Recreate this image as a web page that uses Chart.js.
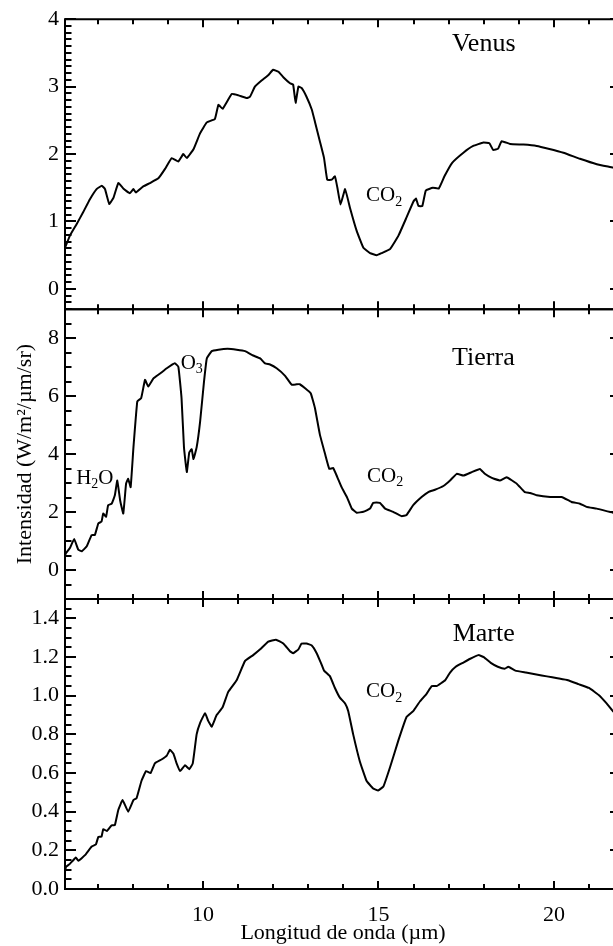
<!DOCTYPE html>
<html>
<head>
<meta charset="utf-8">
<script src="https://cdn.jsdelivr.net/npm/chart.js@4/dist/chart.umd.min.js"></script>
<style>
  html, body { margin: 0; padding: 0; background: #fff; overflow: hidden; }
  #wrap { width: 613px; height: 946px; overflow: hidden; position: relative; }
  canvas { display: block; }
</style>
</head>
<body>
<div id="wrap"><canvas id="c" width="630" height="946"></canvas></div>
<script>
// ---------------- DATA ----------------
const venusX = [6.07,6.21,6.40,6.59,6.78,6.97,7.12,7.21,7.33,7.45,7.59,7.73,7.92,8.02,8.09,8.30,8.49,8.73,8.92,9.11,9.30,9.44,9.54,9.73,9.92,10.11,10.34,10.44,10.56,10.82,11.01,11.25,11.34,11.48,11.67,11.86,12.00,12.15,12.29,12.48,12.57,12.64,12.72,12.81,12.95,13.10,13.19,13.33,13.45,13.54,13.67,13.76,13.83,13.92,14.05,14.19,14.38,14.57,14.76,14.95,15.09,15.33,15.57,15.80,16.00,16.07,16.14,16.25,16.35,16.55,16.72,16.88,17.10,17.42,17.70,17.99,18.16,18.27,18.41,18.51,18.75,19.13,19.51,19.84,20.27,20.74,21.22,21.68,21.91];
const venusY = [0.61,0.79,0.96,1.14,1.33,1.48,1.53,1.48,1.26,1.35,1.57,1.49,1.42,1.48,1.43,1.52,1.57,1.64,1.78,1.94,1.89,2.00,1.94,2.07,2.31,2.47,2.52,2.73,2.67,2.89,2.87,2.83,2.85,3.00,3.09,3.17,3.25,3.22,3.14,3.05,3.03,2.76,3.00,2.98,2.85,2.66,2.48,2.19,1.94,1.62,1.62,1.67,1.50,1.25,1.48,1.20,0.86,0.61,0.53,0.50,0.53,0.59,0.79,1.06,1.30,1.34,1.23,1.23,1.46,1.50,1.49,1.67,1.87,2.02,2.12,2.17,2.16,2.06,2.08,2.19,2.15,2.14,2.12,2.08,2.02,1.93,1.85,1.80,1.77];

const tierraX = [6.07,6.10,6.21,6.33,6.45,6.55,6.69,6.83,6.92,7.02,7.11,7.16,7.24,7.30,7.40,7.49,7.56,7.64,7.73,7.81,7.87,7.94,8.02,8.13,8.24,8.35,8.44,8.59,8.78,8.97,9.20,9.30,9.39,9.46,9.54,9.61,9.68,9.73,9.82,9.92,10.03,10.11,10.25,10.44,10.70,10.96,11.20,11.43,11.63,11.77,11.91,12.10,12.34,12.53,12.67,12.76,12.91,13.07,13.19,13.33,13.48,13.60,13.71,13.83,13.95,14.10,14.24,14.38,14.57,14.76,14.85,15.04,15.19,15.42,15.66,15.80,15.99,16.23,16.42,16.61,16.85,17.04,17.23,17.42,17.66,17.89,18.03,18.23,18.46,18.65,18.94,19.17,19.32,19.51,19.89,20.22,20.50,20.74,20.93,21.22,21.68,21.91];
const tierraY = [0.50,0.59,0.76,1.07,0.70,0.65,0.82,1.21,1.21,1.61,1.67,1.95,1.84,2.24,2.29,2.58,3.09,2.41,1.95,2.98,3.15,2.86,4.23,5.82,5.93,6.56,6.33,6.61,6.78,6.96,7.13,7.01,5.93,4.23,3.38,4.06,4.17,3.83,4.23,5.13,6.50,7.30,7.55,7.60,7.63,7.60,7.55,7.40,7.30,7.13,7.09,6.96,6.70,6.39,6.41,6.41,6.27,6.10,5.59,4.68,4.00,3.49,3.52,3.20,2.86,2.52,2.12,1.98,2.01,2.12,2.32,2.32,2.12,2.01,1.86,1.90,2.24,2.52,2.69,2.77,2.90,3.09,3.32,3.26,3.38,3.49,3.32,3.18,3.09,3.20,2.98,2.69,2.66,2.58,2.52,2.52,2.35,2.29,2.18,2.12,1.98,1.95];

const marteX = [6.07,6.10,6.21,6.38,6.45,6.64,6.83,6.95,7.02,7.11,7.16,7.26,7.40,7.49,7.59,7.71,7.87,8.02,8.11,8.25,8.38,8.51,8.63,8.82,8.97,9.06,9.16,9.25,9.35,9.49,9.61,9.71,9.82,9.92,10.06,10.15,10.25,10.39,10.56,10.72,10.96,11.20,11.43,11.63,11.86,12.08,12.29,12.48,12.57,12.72,12.81,12.95,13.10,13.24,13.36,13.45,13.62,13.76,13.90,14.05,14.14,14.28,14.47,14.66,14.85,14.99,15.14,15.33,15.57,15.80,15.99,16.18,16.37,16.52,16.66,16.90,17.04,17.20,17.40,17.60,17.85,18.00,18.20,18.40,18.60,18.70,18.90,19.20,19.50,19.80,20.10,20.40,20.70,21.00,21.30,21.50,21.68,21.91];
const marteY = [0.09,0.115,0.13,0.163,0.146,0.175,0.22,0.23,0.27,0.27,0.31,0.30,0.33,0.33,0.41,0.46,0.40,0.46,0.47,0.56,0.61,0.60,0.65,0.67,0.69,0.72,0.70,0.65,0.61,0.64,0.62,0.65,0.80,0.86,0.91,0.87,0.84,0.90,0.94,1.02,1.08,1.18,1.21,1.24,1.28,1.29,1.27,1.23,1.22,1.24,1.27,1.27,1.26,1.22,1.17,1.13,1.10,1.04,0.99,0.96,0.92,0.80,0.66,0.56,0.52,0.51,0.53,0.63,0.77,0.89,0.92,0.97,1.01,1.05,1.05,1.08,1.12,1.15,1.17,1.19,1.21,1.20,1.17,1.15,1.14,1.15,1.13,1.12,1.11,1.10,1.09,1.08,1.06,1.04,1.00,0.96,0.92,0.89];

const xTickLabels = [10, 15, 20];
const venusTicks = [0, 1, 2, 3, 4];
const tierraTicks = [0, 2, 4, 6, 8];
const marteTicks = [0, 0.2, 0.4, 0.6, 0.8, 1.0, 1.2, 1.4];

const panelNames = ['Venus', 'Tierra', 'Marte'];
const yTitle = 'Intensidad (W/m²/µm/sr)';
const xTitle = 'Longitud de onda (µm)';

// ---------------- STYLE / LAYOUT ----------------
const FONT = "'Liberation Serif', 'Times New Roman', serif";
const toPts = (xs, ys) => xs.map((x, i) => ({ x: x, y: ys[i] }));

// label placements (data coordinates of each panel)
const labels = [
  { axis: 'yV', x: 18.0, y: 3.63, parts: [[panelNames[0], 0]], size: 26 },
  { axis: 'yV', x: 15.16, y: 1.38, parts: [['CO', 0], ['2', 1]], size: 21 },
  { axis: 'yT', x: 17.99, y: 7.30, parts: [[panelNames[1], 0]], size: 26 },
  { axis: 'yT', x: 15.19, y: 3.23, parts: [['CO', 0], ['2', 1]], size: 21 },
  { axis: 'yT', x: 6.92, y: 3.17, parts: [['H', 0], ['2', 1], ['O', 0]], size: 21 },
  { axis: 'yT', x: 9.68, y: 7.13, parts: [['O', 0], ['3', 1]], size: 21 },
  { axis: 'yM', x: 18.0, y: 1.32, parts: [[panelNames[2], 0]], size: 26 },
  { axis: 'yM', x: 15.16, y: 1.02, parts: [['CO', 0], ['2', 1]], size: 21 }
];

const panelMeta = {
  yV: { major: 1, minor: 0.1 },
  yT: { major: 2, minor: 0.5 },
  yM: { major: 0.2, minor: 0.05 }
};

const framePlugin = {
  id: 'frame',
  afterDatasetsDraw(chart) {
    const ctx = chart.ctx;
    const ca = chart.chartArea;
    const xs = chart.scales.x;
    ctx.save();
    ctx.strokeStyle = '#000';
    ctx.lineWidth = 2;
    ctx.lineCap = 'butt';
    ['yV', 'yT', 'yM'].forEach(id => {
      const s = chart.scales[id];
      const top = s.top, bot = s.bottom, L = ca.left, R = ca.right;
      ctx.beginPath();
      ctx.rect(L, top, R - L, bot - top);
      ctx.stroke();
      const meta = panelMeta[id];
      const nMin = Math.ceil(s.min / meta.minor - 1e-6), nMax = Math.floor(s.max / meta.minor + 1e-6);
      for (let k = nMin; k <= nMax; k++) {
        const v = k * meta.minor;
        const r = v / meta.major;
        const isMajor = Math.abs(r - Math.round(r)) < 1e-6;
        const len = isMajor ? 11 : 6.5;
        const py = Math.round(s.getPixelForValue(v));
        ctx.beginPath();
        ctx.moveTo(L, py); ctx.lineTo(L + len, py);
        ctx.moveTo(R, py); ctx.lineTo(R - len, py);
        ctx.stroke();
      }
      for (let v = Math.ceil(xs.min); v <= Math.floor(xs.max); v++) {
        const isMajor = v % 5 === 0;
        const len = isMajor ? 8 : 5;
        const px = Math.round(xs.getPixelForValue(v));
        ctx.beginPath();
        ctx.moveTo(px, top); ctx.lineTo(px, top + len);
        ctx.moveTo(px, bot); ctx.lineTo(px, bot - len);
        ctx.stroke();
      }
    });
    ctx.fillStyle = '#000';
    ctx.textBaseline = 'middle';
    ctx.textAlign = 'left';
    labels.forEach(lb => {
      const s = chart.scales[lb.axis];
      const cx = xs.getPixelForValue(lb.x);
      const cy = s.getPixelForValue(lb.y);
      const big = lb.size, small = Math.round(lb.size * 0.66);
      let w = 0;
      lb.parts.forEach(p => {
        ctx.font = (p[1] ? small : big) + 'px ' + FONT;
        w += ctx.measureText(p[0]).width;
      });
      let x = cx - w / 2;
      lb.parts.forEach(p => {
        ctx.font = (p[1] ? small : big) + 'px ' + FONT;
        ctx.fillText(p[0], x, p[1] ? cy + big * 0.3 : cy);
        x += ctx.measureText(p[0]).width;
      });
    });
    ctx.restore();
  }
};

function yScale(min, max, ticks, showTitle) {
  return {
    type: 'linear',
    position: 'left',
    stack: 'panels',
    stackWeight: 1,
    min: min,
    max: max,
    grid: { display: false, drawTicks: false },
    border: { display: false },
    afterBuildTicks: s => { s.ticks = ticks.map(v => ({ value: v })); },
    afterFit: s => { s.width = 65; },
    ticks: {
      font: { family: FONT, size: 22 },
      color: '#000',
      padding: 6,
      autoSkip: false,
      callback: v => (ticks === marteTicks ? Number(v).toFixed(1) : String(v))
    },
    title: {
      display: showTitle,
      text: yTitle,
      color: '#000',
      font: { family: FONT, size: 22 },
      padding: { top: 12, bottom: 0 }
    }
  };
}

const ds = (data, axis) => ({
  data: data,
  yAxisID: axis,
  borderColor: '#000',
  borderWidth: 2,
  pointRadius: 0,
  fill: false,
  tension: 0.1
});

new Chart(document.getElementById('c'), {
  type: 'line',
  data: {
    datasets: [
      ds(toPts(venusX, venusY), 'yV'),
      ds(toPts(tierraX, tierraY), 'yT'),
      ds(toPts(marteX, marteY), 'yM')
    ]
  },
  options: {
    responsive: false,
    animation: false,
    layout: { padding: { top: 14, right: 9, left: 0, bottom: 0 } },
    plugins: { legend: { display: false }, tooltip: { enabled: false } },
    scales: {
      x: {
        type: 'linear',
        position: 'bottom',
        min: 6.07,
        max: 21.91,
        grid: { display: false, drawTicks: false },
        border: { display: false },
        afterBuildTicks: s => { s.ticks = xTickLabels.map(v => ({ value: v })); },
        afterFit: s => { s.height = 57; },
        ticks: {
          font: { family: FONT, size: 22 },
          color: '#000',
          padding: 13,
          maxRotation: 0,
          autoSkip: false,
          callback: v => String(v)
        },
        title: {
          display: true,
          text: xTitle,
          color: '#000',
          font: { family: FONT, size: 22 },
          padding: { top: 0, bottom: 0 }
        }
      },
      yM: yScale(0, 1.5, marteTicks, false),
      yT: yScale(-1, 9, tierraTicks, true),
      yV: yScale(-0.3, 4, venusTicks, false)
    }
  },
  plugins: [framePlugin]
});
</script>
</body>
</html>
